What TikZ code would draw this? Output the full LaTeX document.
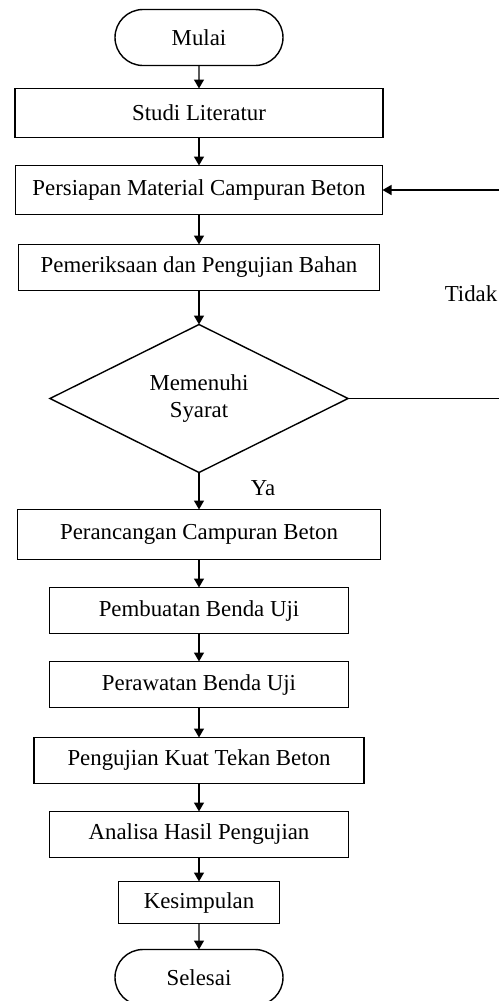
\documentclass[tikz,border=0pt]{standalone}
\usepackage{fontspec}
\setmainfont{Liberation Serif}
\usepackage{tikz}
\usetikzlibrary{arrows.meta, positioning, shapes.geometric, shapes.misc}

\begin{document}
\begin{tikzpicture}[
    terminal/.style={rounded rectangle, draw, line width=0.8pt, minimum width=3.36cm, minimum height=1.12cm, inner sep=0pt, outer sep=0pt, align=center},
    proses/.style={rectangle, draw, line width=0.8pt, minimum width=#1, minimum height=0.92cm, inner sep=0pt, outer sep=0pt, align=center},
    keputusan/.style={diamond, draw, line width=0.8pt, aspect=2, minimum width=5.96cm, minimum height=2.96cm, inner sep=0pt, outer sep=0pt, align=center},
    alur/.style={-{Triangle[length=1.8mm, width=2mm]}, line width=0.8pt},
    every node/.style={font=\fontsize{13}{15.5}\selectfont}
]

\useasboundingbox (0,0) rectangle (9.98,-20.02);

% Mulai
\node[terminal] (mulai) at (3.98,-0.75) {Mulai};

% tahap persiapan
\node[proses=7.36cm, minimum height=0.98cm, below=0.46cm of mulai] (studi) {Studi Literatur};
\node[proses=7.34cm, minimum height=0.98cm, below=0.56cm of studi] (persiapan) {Persiapan Material Campuran Beton};
\node[proses=7.22cm, below=0.60cm of persiapan] (periksa) {Pemeriksaan dan Pengujian Bahan};

% Keputusan
\node[keputusan, below=0.68cm of periksa] (syarat) {Memenuhi\\Syarat};

% tahap pelaksanaan
\node[proses=7.26cm, minimum height=1.0cm, below=0.74cm of syarat] (rancang) {Perancangan Campuran Beton};
\node[proses=5.98cm, below=0.56cm of rancang] (buat) {Pembuatan Benda Uji};
\node[proses=5.98cm, below=0.56cm of buat] (rawat) {Perawatan Benda Uji};
\node[proses=6.60cm, below=0.60cm of rawat] (uji) {Pengujian Kuat Tekan Beton};
\node[proses=5.98cm, below=0.56cm of uji] (analisa) {Analisa Hasil Pengujian};
\node[proses=3.22cm, minimum height=0.84cm, below=0.48cm of analisa] (simpul) {Kesimpulan};

% Selesai
\node[terminal, below=0.52cm of simpul] (selesai) {Selesai};

% Label cabang
\node (ya) at (5.26,-9.76) {Ya};
\node (tidak) at (9.42,-5.88) {Tidak};

% Ujung garis balik di tepi kanan
\coordinate (ujung1) at (9.98,0 |- syarat.east);
\coordinate (ujung2) at (9.98,0 |- persiapan.east);

% Panah utama
\draw[alur] (mulai) -- (studi);
\draw[alur] (studi) -- (persiapan);
\draw[alur] (persiapan) -- (periksa);
\draw[alur] (periksa) -- (syarat);
\draw[alur] (syarat) -- (rancang);
\draw[alur] (rancang) -- (buat);
\draw[alur] (buat) -- (rawat);
\draw[alur] (rawat) -- (uji);
\draw[alur] (uji) -- (analisa);
\draw[alur] (analisa) -- (simpul);
\draw[alur] (simpul) -- (selesai);

% Garis balik (Tidak)
\draw[line width=0.8pt] (syarat.east) -- (ujung1);
\draw[alur] (ujung2) -- (persiapan.east);

\end{tikzpicture}
\end{document}
